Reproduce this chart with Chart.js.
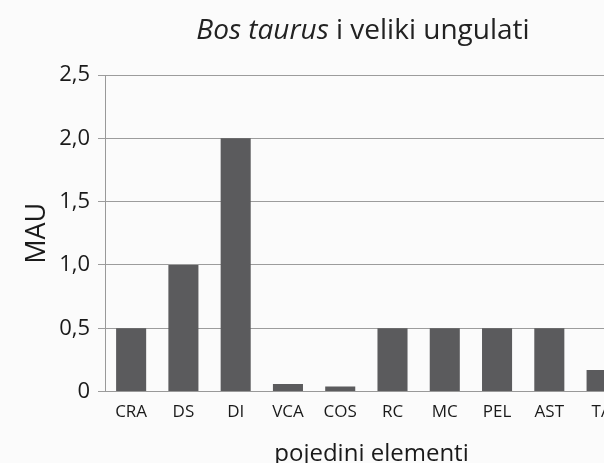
<!DOCTYPE html>
<html>
<head>
<meta charset="utf-8">
<script src="https://cdn.jsdelivr.net/npm/chart.js@4"></script>
<style>
  html, body { margin: 0; padding: 0; background: #fbfbfb; overflow: hidden; }
  #wrap { width: 726px; height: 485px; }
</style>
</head>
<body>
<div id="wrap"><canvas id="mauChart"></canvas></div>
<script>
// elementi skeleta (x os)
const elements = ['CRA', 'DS', 'DI', 'VCA', 'COS', 'RC', 'MC', 'PEL', 'AST', 'TA', ''];
// MAU vrijednosti
const mauValues = [0.5, 1.0, 2.0, 0.06, 0.04, 0.5, 0.5, 0.5, 0.5, 0.17, null];
const yTickLabels = ['0', '0,5', '1,0', '1,5', '2,0', '2,5'];

const titleParts = [
  { text: 'Bos taurus', italic: true },
  { text: ' i veliki ungulati', italic: false }
];
const xAxisTitle = 'pojedini elementi';

const FONT = '"Open Sans", sans-serif';

// naslov s kurzivom za latinski naziv + naslov osi x (malo lijevo od sredine, kao u originalu)
const textPlugin = {
  id: 'textPlugin',
  afterDraw(chart) {
    const ctx = chart.ctx;
    const size = 28;
    ctx.save();
    ctx.fillStyle = '#222';
    ctx.textBaseline = 'alphabetic';
    let total = 0;
    titleParts.forEach(p => {
      ctx.font = (p.italic ? 'italic ' : '') + size + 'px ' + FONT;
      total += ctx.measureText(p.text).width;
    });
    let x = chart.width / 2 - total / 2;
    titleParts.forEach(p => {
      ctx.font = (p.italic ? 'italic ' : '') + size + 'px ' + FONT;
      ctx.fillText(p.text, x, 39);
      x += ctx.measureText(p.text).width;
    });

    const area = chart.chartArea;
    ctx.font = '24px ' + FONT;
    ctx.fillStyle = '#1a1a1a';
    ctx.textAlign = 'center';
    ctx.textBaseline = 'middle';
    ctx.fillText(xAxisTitle, (area.left + area.right) / 2 - 21, chart.height - 30.5);
    ctx.restore();
  }
};

const ctx1 = document.getElementById('mauChart').getContext('2d');

new Chart(ctx1, {
  type: 'bar',
  data: {
    labels: elements,
    datasets: [{
      label: 'MAU',
      data: mauValues,
      backgroundColor: '#5b5b5d',
      categoryPercentage: 1.0,
      barPercentage: 0.575
    }]
  },
  options: {
    responsive: true,
    maintainAspectRatio: false,
    animation: false,
    layout: { padding: { top: 75, right: 46, left: 0, bottom: 53 } },
    plugins: {
      legend: { display: false },
      tooltip: { enabled: false }
    },
    scales: {
      x: {
        grid: { display: false, drawTicks: false },
        border: { display: true, color: '#999999' },
        ticks: {
          color: '#1a1a1a',
          padding: 10,
          maxRotation: 0,
          autoSkip: false,
          font: { family: FONT, size: 17 }
        }
      },
      y: {
        min: 0,
        max: 2.5,
        afterFit(scale) { scale.width = 105; },
        grid: { color: '#9c9c9c', tickLength: 7 },
        border: { display: true, color: '#999999' },
        ticks: {
          stepSize: 0.5,
          padding: 8,
          color: '#1a1a1a',
          font: { family: FONT, size: 22 },
          callback: (v, i) => yTickLabels[i]
        },
        title: {
          display: true,
          text: 'MAU',
          color: '#1a1a1a',
          padding: { top: 21, bottom: 0 },
          font: { family: FONT, size: 27 }
        }
      }
    }
  },
  plugins: [textPlugin]
});
</script>
</body>
</html>
